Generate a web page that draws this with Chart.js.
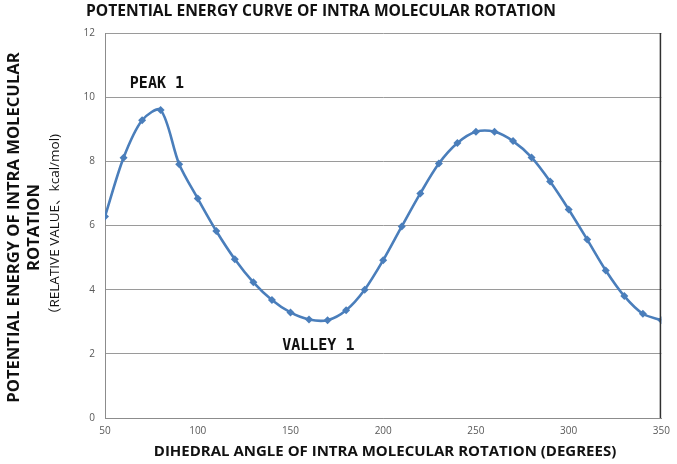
<!DOCTYPE html>
<html>
<head>
<meta charset="utf-8">
<script src="https://cdn.jsdelivr.net/npm/chart.js@4"></script>
<style>
  html, body { margin: 0; padding: 0; background: #fff; }
</style>
</head>
<body>
<canvas id="myChart" width="677" height="464"></canvas>
<script>
const angles = [50, 60, 70, 80, 90, 100, 110, 120, 130, 140, 150, 160, 170, 180, 190, 200,
                210, 220, 230, 240, 250, 260, 270, 280, 290, 300, 310, 320, 330, 340, 350];
const energy = [6.28, 8.11, 9.28, 9.6, 7.91, 6.84, 5.83, 4.95, 4.23, 3.68, 3.29, 3.07, 3.05, 3.36, 4.0, 4.92,
                5.97, 7.0, 7.93, 8.57, 8.92, 8.92, 8.63, 8.12, 7.37, 6.5, 5.56, 4.6, 3.8, 3.25, 3.05];
const notes = ["PEAK 1", "VALLEY 1"];
const noteX = [78, 165];
const noteY = [10.4, 2.24];

const chartTitle = "POTENTIAL ENERGY CURVE OF INTRA MOLECULAR ROTATION";
const yTitle = ["POTENTIAL ENERGY OF INTRA MOLECULAR", "ROTATION", "\uFF08RELATIVE VALUE\u3001kcal/mol)"];
const xTitle = "DIHEDRAL ANGLE OF INTRA MOLECULAR ROTATION (DEGREES)";

const lineColor = "#4a7ebb";
const fam = "'Open Sans', 'Noto Sans CJK JP', sans-serif";

// titles, right frame line and the two notes
const decor = {
    id: "decor",
    afterDraw(chart) {
        const ctx = chart.ctx;
        const area = chart.chartArea;
        const xs = chart.scales.x, ys = chart.scales.y;
        ctx.save();

        ctx.strokeStyle = "#303030";
        ctx.lineWidth = 1.5;
        ctx.beginPath();
        ctx.moveTo(area.right - 1, area.top);
        ctx.lineTo(area.right - 1, area.bottom);
        ctx.stroke();

        ctx.fillStyle = "#111";
        ctx.textBaseline = "middle";
        ctx.textAlign = "left";
        ctx.font = "bold 15.6px " + fam;
        ctx.fillText(chartTitle, 86, 12);

        ctx.textAlign = "center";
        ctx.font = "bold 15px " + fam;
        ctx.fillText(xTitle, 385, 452);

        const cy = (area.top + area.bottom) / 2 + 2;
        const colX = [14, 34, 55];
        yTitle.forEach((t, i) => {
            ctx.save();
            ctx.translate(colX[i], cy);
            ctx.rotate(-Math.PI / 2);
            ctx.font = i < 2 ? "bold 16.6px " + fam : "13.5px " + fam;
            ctx.fillText(t, 0, 0);
            ctx.restore();
        });

        ctx.font = "bold 15px 'DejaVu Sans Mono', monospace";
        notes.forEach((t, i) => {
            ctx.fillText(t, xs.getPixelForValue(noteX[i]), ys.getPixelForValue(noteY[i]));
        });
        ctx.restore();
    }
};

new Chart("myChart", {
    type: "line",
    data: {
        datasets: [{
            data: angles.map((a, i) => ({ x: a, y: energy[i] })),
            borderColor: lineColor,
            backgroundColor: lineColor,
            borderWidth: 2.6,
            tension: 0.3,
            pointStyle: "rectRot",
            pointRadius: 4,
            pointBorderWidth: 0
        }]
    },
    options: {
        responsive: false,
        animation: false,
        layout: {
            padding: { top: 33, right: 11, left: 0, bottom: 0 }
        },
        plugins: {
            legend: { display: false },
            tooltip: { enabled: false }
        },
        scales: {
            x: {
                type: "linear",
                min: 50,
                max: 350,
                afterFit: s => { s.height = 46; },
                ticks: {
                    stepSize: 50,
                    color: "#595959",
                    font: { size: 10, family: "'Open Sans', sans-serif" },
                    padding: 7,
                    maxRotation: 0
                },
                grid: { display: false, drawTicks: false },
                border: { display: true, color: "#8c8c8c", width: 1 }
            },
            y: {
                min: 0,
                max: 12,
                afterFit: s => { s.width = 105; },
                ticks: {
                    stepSize: 2,
                    color: "#595959",
                    font: { size: 10, family: "'Open Sans', sans-serif" },
                    padding: 10
                },
                grid: { color: "#9a9a9a", drawTicks: false },
                border: { display: true, color: "#8c8c8c", width: 1 }
            }
        }
    },
    plugins: [decor]
});
</script>
</body>
</html>
